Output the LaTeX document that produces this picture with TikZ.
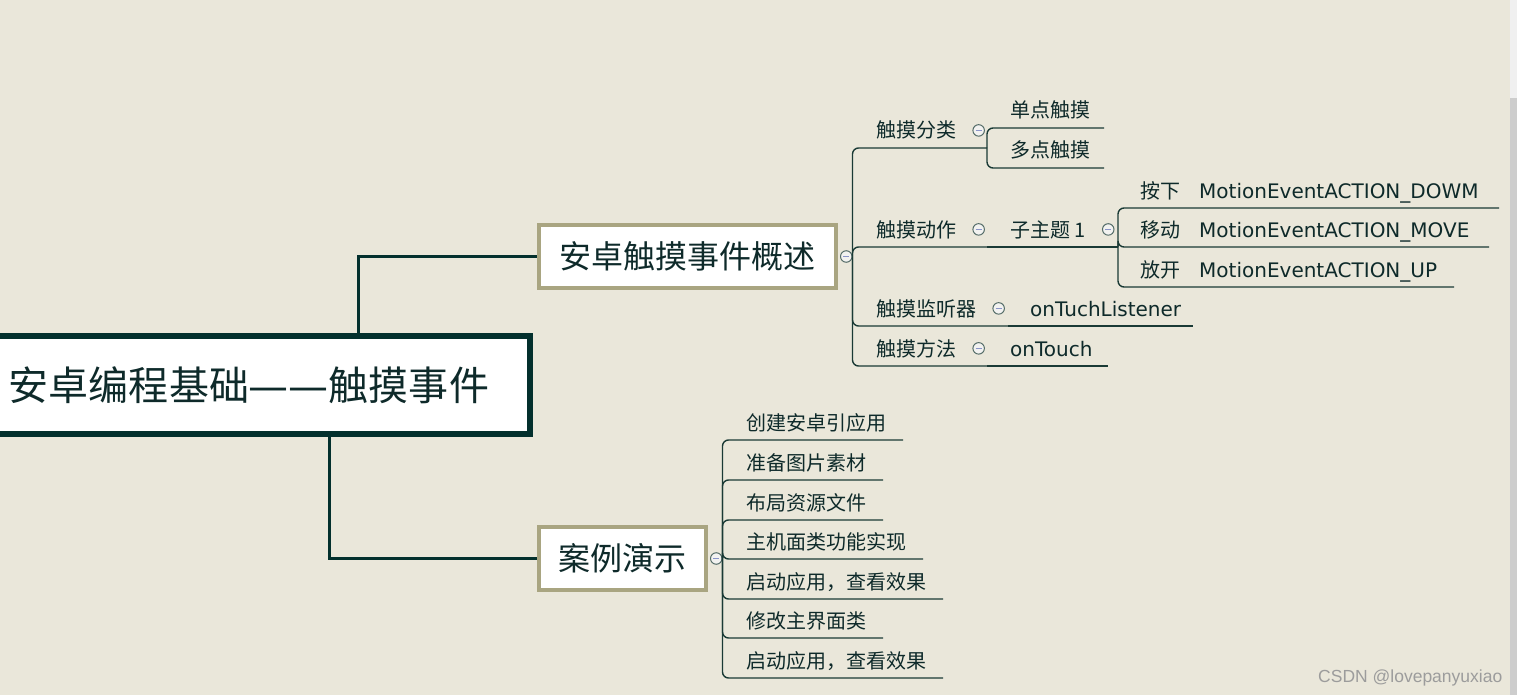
\documentclass[tikz,border=0pt]{standalone}
\usepackage{fontspec}
\setmainfont{Noto Sans CJK SC}
\newfontfamily\lat{DejaVu Sans}
\newfontfamily\wmfont{Liberation Sans}
\usetikzlibrary{positioning}

\definecolor{paper}{HTML}{EAE7DA}
\definecolor{ink}{HTML}{0E2A2A}
\definecolor{rootline}{HTML}{03302D}
\definecolor{boxline}{HTML}{A9A581}
\definecolor{wire}{HTML}{1A3A35}
\definecolor{foldfill}{HTML}{F2F2F0}
\definecolor{foldminus}{HTML}{8A94C8}
\definecolor{wmgray}{HTML}{9C9C9C}
\definecolor{scrolltrack}{HTML}{F0F0F0}
\definecolor{scrollthumb}{HTML}{CDCDCD}

\begin{document}
\begin{tikzpicture}[x=1pt, y=-1pt,
  rootbox/.style={draw=rootline, line width=6pt, fill=white, text=ink, minimum width=562, minimum height=98, font=\fontsize{40}{48}\selectfont},
  mainbox/.style={draw=boxline, line width=4pt, fill=white, text=ink, minimum height=63, font=\fontsize{32}{38}\selectfont},
  topic/.style={anchor=base west, inner sep=0pt, text=ink, font=\fontsize{20}{24}\selectfont},
  fold/.style={circle, draw=wire!75, line width=1pt, fill=foldfill, minimum size=11.5pt, inner sep=0pt,
    path picture={\draw[foldminus, line width=1pt] ([xshift=-3pt]path picture bounding box.center) -- ([xshift=3pt]path picture bounding box.center);}},
  trunk/.style={draw=rootline, line width=3pt},
  branch/.style={draw=wire, line width=1.4pt, rounded corners=6pt}]
	\useasboundingbox (0,0) rectangle (1517,695);
	\fill[paper] (0,0) rectangle (1517,695);
	% scroll bar at the right edge
	\fill[scrolltrack] (1510,0) rectangle (1517,98);
	\fill[scrollthumb] (1510,98) rectangle (1517,695);

	\node[rootbox] (root) at (249,385) {安卓编程基础{\lat ——}触摸事件};
	\node[mainbox, minimum width=297] (sum) at (687.5,256.5) {安卓触摸事件概述};
	\node[mainbox, minimum width=167] (demo) at (622.5,558.5) {案例演示};
	\draw[trunk] ([xshift=109pt]root.north) |- (sum.west);
	\draw[trunk] ([xshift=80pt]root.south) |- (demo.west);
	\node[fold, right=2pt of sum] (fsum) {};
	\node[fold, right=2pt of demo] (fdemo) {};

	% overview branch
	\node[topic] (kind) at (876,138) {触摸分类};
	\node[topic] (act) at (876,237) {触摸动作};
	\node[topic] (lsn) at (876,316) {触摸监听器};
	\node[topic] (meth) at (876,356) {触摸方法};
	\foreach \a in {kind, act, lsn, meth} {\node[fold, right=16pt of \a] (f\a) {};}
	\coordinate (ukind) at (987,148);
	\coordinate (uact) at (987,247);
	\coordinate (ulsn) at (1008,326);
	\coordinate (umeth) at (987,366);
	\foreach \u in {ukind, uact, ulsn, umeth} {\draw[branch] (fsum.east) |- (\u);}

	\node[topic] (single) at (1010,118) {单点触摸};
	\node[topic] (multi) at (1010,158) {多点触摸};
	\node[topic] (sub) at (1010,237) {子主题 1};
	\node[topic] (lsnname) at (1030,316) {\lat onTuchListener};
	\node[topic] (methname) at (1010,356) {\lat onTouch};
	\node[fold, right=16pt of sub] (fsub) {};
	\coordinate (usingle) at (1104,128);
	\coordinate (umulti) at (1104,168);
	\coordinate (usub) at (1118,247);
	\coordinate (ulsnname) at (1193,326);
	\coordinate (umethname) at (1108,366);
	\foreach \b in {usingle, umulti} {\draw[branch] (ukind) |- (\b);}
	\foreach \a/\b in {uact/usub, ulsn/ulsnname, umeth/umethname} {\draw[branch] (\a) -- (\b);}

	\node[topic] (down) at (1140,198) {按下\hspace{19pt}{\lat MotionEventACTION\_DOWM}};
	\node[topic] (move) at (1140,237) {移动\hspace{19pt}{\lat MotionEventACTION\_MOVE}};
	\node[topic] (up) at (1140,277) {放开\hspace{19pt}{\lat MotionEventACTION\_UP}};
	\coordinate (udown) at (1499,208);
	\coordinate (umove) at (1489,247);
	\coordinate (uup) at (1454,287);
	\foreach \b in {udown, umove, uup} {\draw[branch] (usub) |- (\b);}

	% demo branch
	\foreach \n/\y/\e/\t in {1/440/903/创建安卓引应用, 2/480/883/准备图片素材, 3/520/883/布局资源文件, 4/559/923/主机面类功能实现, 5/599/943/启动应用，查看效果, 6/638/883/修改主界面类, 7/678/943/启动应用，查看效果} {
		\node[topic] (demo\n) at (746,\y-10) {\t};
		\coordinate (udemo\n) at (\e,\y);
		\draw[branch] (fdemo.east) |- (udemo\n);
	}

	\node[anchor=base west, inner sep=0pt, text=wmgray, font=\wmfont\fontsize{17.5}{20}\selectfont] (mark) at (1318,682) {CSDN @lovepanyuxiao};
\end{tikzpicture}
\end{document}
